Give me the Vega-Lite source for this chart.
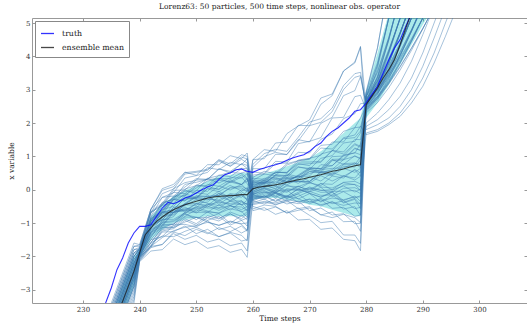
{
"$schema": "https://vega.github.io/schema/vega-lite/v6.json",
"width": 495, "height": 285,
"autosize": "none",
"padding": {"left": 32, "top": 18, "right": 0, "bottom": 24},
"background": "white",
"title": {"text": "Lorenz63: 50 particles, 500 time steps, nonlinear obs. operator", "font": "DejaVu Serif", "fontSize": 7.5, "fontWeight": "normal", "color": "#222", "offset": 7},
"config": {
  "view": {"stroke": "#999", "strokeWidth": 1},
  "axis": {"labelFont": "DejaVu Serif", "labelFontSize": 7, "labelColor": "#333", "titleFont": "DejaVu Serif", "titleFontSize": 7.5, "titleFontWeight": "normal", "titleColor": "#222", "grid": false, "domain": false, "tickColor": "#999", "tickSize": -3, "labelPadding": 5},
  "legend": {"labelFont": "DejaVu Serif", "labelFontSize": 7.8, "labelColor": "#222"}
},
"layer": [
{
  "data": {"values": [
    {"t":233,"lo":-5.6,"hi":-4.7},{"t":235,"lo":-4.7,"hi":-3.8},{"t":237,"lo":-3.8,"hi":-2.9},{"t":239,"lo":-2.9,"hi":-2.0},
    {"t":240,"lo":-2.05,"hi":-1.75},{"t":242,"lo":-1.5,"hi":-0.8},{"t":244,"lo":-1.2,"hi":-0.45},{"t":246,"lo":-1.0,"hi":-0.2},
    {"t":248,"lo":-0.9,"hi":-0.02},{"t":250,"lo":-0.85,"hi":0.1},{"t":252,"lo":-0.8,"hi":0.25},{"t":254,"lo":-0.8,"hi":0.4},
    {"t":256,"lo":-0.8,"hi":0.45},{"t":258,"lo":-0.8,"hi":0.5},{"t":259,"lo":-0.8,"hi":0.5},
    {"t":260,"lo":-0.3,"hi":0.4},{"t":262,"lo":-0.25,"hi":0.48},{"t":264,"lo":-0.25,"hi":0.58},{"t":266,"lo":-0.3,"hi":0.7},
    {"t":268,"lo":-0.35,"hi":0.82},{"t":270,"lo":-0.45,"hi":0.95},{"t":272,"lo":-0.5,"hi":1.15},{"t":274,"lo":-0.6,"hi":1.4},
    {"t":276,"lo":-0.7,"hi":1.7},{"t":278,"lo":-0.8,"hi":2.0},{"t":279,"lo":-0.8,"hi":2.15},
    {"t":280,"lo":2.15,"hi":2.95},{"t":282,"lo":2.6,"hi":4.1},{"t":284,"lo":3.15,"hi":5.3},{"t":286,"lo":3.75,"hi":6.5},
    {"t":288,"lo":4.35,"hi":7.6},{"t":290,"lo":4.95,"hi":8.6},{"t":292,"lo":5.5,"hi":9.6}
  ]},
  "mark": {"type": "area", "color": "#00bfbf", "opacity": 0.33, "clip": true},
  "encoding": {
    "x": {"field": "t", "type": "quantitative", "scale": {"domain": [221, 308.4], "nice": false, "zero": false},
          "axis": {"values": [230,240,250,260,270,280,290,300], "title": "Time steps", "titlePadding": 2}},
    "y": {"field": "lo", "type": "quantitative", "scale": {"domain": [-3.4, 5.15], "nice": false, "zero": false},
          "axis": {"values": [-3,-2,-1,0,1,2,3,4,5], "title": "x variable", "titlePadding": 4}},
    "y2": {"field": "hi"}
  }
},
{
  "data": {"values": "p,233,235,237,239,240,242,244,246,248,250,252,254,256,258,259,260,262,264,266,268,270,272,274,276,278,279,280,282,284,286,288,290,292,294,296\n1,-5.0,-4.1,-3.2,-2.3,-1.86,-0.93,-0.75,-0.29,-0.33,-0.02,-0.05,0.28,0.24,0.44,0.31,-0.14,-0.02,-0.2,0.03,-0.01,-0.07,0.07,-0.21,-0.06,-0.25,-0.18,2.6,3.1,3.83,4.69,5.63,9,9,9,9\n2,-5.5,-4.6,-3.7,-2.8,-1.94,-1.43,-0.97,-0.93,-0.71,-0.9,-0.67,-0.86,-0.72,-0.92,-0.85,0.28,0.27,0.52,0.52,0.89,0.94,1.03,1.43,1.43,1.86,1.88,2.5,2.87,3.41,4.06,4.77,5.52,9,9,9\n3,-4.6,-3.7,-2.8,-1.9,-1.78,-0.66,-0.41,0.03,0.21,0.28,0.66,0.6,0.82,0.75,0.93,-0.34,-0.19,-0.19,-0.34,-0.2,-0.05,-0.17,-0.16,0.04,0.06,-0.02,2.8,3.75,5.15,6.8,9,9,9,9,9\n4,-5.3,-4.4,-3.5,-2.6,-2.01,-1.59,-1.13,-1.03,-0.67,-0.68,-0.68,-0.45,-0.61,-0.37,-0.44,0.09,0.28,0.2,0.47,0.39,0.65,0.63,0.99,1.01,1.35,1.27,2.4,2.73,3.24,3.81,4.45,5.15,5.87,9,9\n5,-4.9,-4.0,-3.1,-2.2,-1.91,-1.05,-0.73,-0.68,-0.41,-0.18,-0.2,-0.17,0.05,0.05,-0.04,0.9,0.93,1.4,1.43,1.93,1.92,2.56,2.82,3.56,3.8,4.27,1.8,1.95,2.15,2.5,3.0,3.7,4.55,5.45,9\n6,-5.8,-4.9,-4.0,-3.1,-2.12,-1.7,-1.65,-1.32,-1.49,-1.37,-1.57,-1.48,-1.68,-1.6,-1.84,-0.08,0.07,-0.03,0.22,0.26,0.24,0.53,0.45,0.7,0.68,0.89,2.7,3.28,4.15,5.15,6.3,9,9,9,9\n7,-4.7,-3.8,-2.9,-2.0,-1.8,-1.0,-0.47,-0.4,-0.12,-0.24,0.02,-0.06,0.13,-0.04,0.06,-0.5,-0.62,-0.52,-0.7,-0.55,-0.77,-0.99,-0.95,-1.36,-1.36,-1.61,2.55,2.98,3.61,4.33,5.15,6.0,9,9,9\n8,-5.2,-4.3,-3.4,-2.5,-1.96,-1.21,-1.06,-0.68,-0.61,-0.65,-0.43,-0.56,-0.47,-0.6,-0.5,0.17,0.34,0.37,0.25,0.42,0.61,0.53,0.56,0.78,0.8,0.66,2.9,4.24,6.2,9,9,9,9,9,9\n9,-4.4,-3.5,-2.6,-1.7,-1.7,-0.69,-0.12,0.02,0.47,0.52,0.58,0.9,0.77,1.05,1.0,-0.21,-0.05,-0.25,-0.01,-0.28,-0.12,-0.37,-0.16,-0.4,-0.29,-0.57,2.45,2.75,3.17,3.68,4.24,4.83,5.46,9,9\n10,-5.6,-4.7,-3.8,-2.9,-2.01,-1.36,-1.13,-1.14,-0.97,-0.83,-0.97,-1.07,-0.94,-1.04,-1.22,0.44,0.47,0.78,0.8,1.12,1.1,1.51,1.67,2.13,2.28,2.58,2.6,3.38,4.5,5.84,9,9,9,9,9\n11,-4.8,-3.9,-3.0,-2.1,-1.84,-0.85,-0.62,-0.19,-0.19,0.11,0.12,0.44,0.39,0.63,0.51,0.01,0.15,0.02,0.25,0.25,0.19,0.42,0.26,0.42,0.29,0.4,2.7,3.1,3.69,4.39,5.15,5.98,9,9,9\n12,-5.4,-4.5,-3.6,-2.7,-2.04,-1.67,-1.2,-1.13,-0.87,-1.02,-0.78,-0.88,-0.67,-0.8,-0.66,-0.42,-0.35,-0.4,-0.3,-0.36,-0.28,-0.34,-0.25,-0.3,-0.22,-0.22,1.7,1.8,2.0,2.3,2.75,3.35,4.1,5.0,5.9\n13,-5.1,-4.2,-3.3,-2.4,-1.91,-1.07,-0.91,-0.53,-0.45,-0.47,-0.16,-0.44,-0.21,-0.46,-0.31,0.76,1.08,1.21,1.15,1.57,2.03,2.13,2.45,3.12,3.48,3.52,2.5,3.13,4.07,5.15,6.34,9,9,9,9\n14,-4.3,-3.4,-2.5,-1.6,-1.65,-0.58,-0.02,0.09,0.51,0.55,0.61,0.89,0.7,0.91,0.8,-0.15,0.02,-0.09,0.14,0.01,0.21,0.12,0.41,0.35,0.61,0.5,2.65,3.0,3.52,4.14,4.8,5.53,9,9,9\n15,-5.0,-4.1,-3.2,-2.3,-1.93,-1.11,-0.78,-0.73,-0.45,-0.2,-0.21,-0.17,0.07,0.1,0.02,0.17,0.17,0.45,0.42,0.69,0.61,0.94,1.02,1.4,1.45,1.7,2.8,3.51,4.56,5.78,9,9,9,9,9\n16,-6.1,-5.2,-4.3,-3.4,-2.16,-1.84,-1.8,-1.48,-1.65,-1.54,-1.76,-1.68,-1.88,-1.79,-2.03,-0.29,-0.19,-0.36,-0.2,-0.27,-0.42,-0.29,-0.56,-0.53,-0.8,-0.76,2.35,2.69,3.2,3.79,4.44,5.15,5.91,9,9\n17,-4.7,-3.8,-2.9,-2.0,-1.77,-0.93,-0.38,-0.3,-0.01,-0.12,0.16,0.1,0.3,0.15,0.26,0.34,0.31,0.53,0.5,0.83,0.83,0.85,1.17,1.07,1.38,1.3,2.6,3.05,3.86,4.72,5.6,9,9,9,9\n18,-5.3,-4.4,-3.5,-2.6,-1.99,-1.28,-1.1,-0.68,-0.57,-0.55,-0.23,-0.36,-0.14,-0.23,-0.04,-0.04,0.11,0.11,-0.05,0.09,0.22,0.08,0.05,0.21,0.15,-0.02,2.75,3.72,5.15,6.8,9,9,9,9,9\n19,-4.9,-4.0,-3.1,-2.2,-1.84,-1.14,-0.67,-0.6,-0.25,-0.28,-0.31,-0.11,-0.34,-0.17,-0.31,-0.63,-0.54,-0.74,-0.63,-0.91,-0.89,-1.19,-1.15,-1.49,-1.53,-1.83,2.5,2.94,3.58,4.32,5.15,6.05,9,9,9\n20,-5.7,-4.8,-3.9,-3.0,-2.09,-1.6,-1.39,-1.41,-1.25,-1.13,-1.29,-1.41,-1.28,-1.37,-1.54,0.23,0.23,0.52,0.51,0.78,0.72,1.07,1.16,1.56,1.64,1.9,1.65,1.75,1.95,2.2,2.6,3.1,3.8,4.6,5.45\n21,-4.5,-3.6,-2.7,-1.8,-1.78,-0.69,-0.45,-0.02,-0.01,0.29,0.3,0.62,0.55,0.77,0.64,-0.11,0.05,-0.05,0.21,0.25,0.24,0.54,0.47,0.75,0.75,0.98,2.6,3.2,4.11,5.15,6.3,9,9,9,9\n22,-5.2,-4.3,-3.4,-2.5,-1.89,-1.29,-0.81,-0.76,-0.52,-0.7,-0.49,-0.62,-0.47,-0.67,-0.59,0.53,0.49,0.85,0.83,1.38,1.45,1.56,2.15,2.17,2.79,2.83,2.4,2.79,3.36,4.03,4.76,5.56,9,9,9\n23,-4.8,-3.9,-3.0,-2.1,-1.85,-0.87,-0.66,-0.23,-0.05,-0.04,0.34,0.2,0.36,0.35,0.48,-0.25,-0.09,-0.08,-0.23,-0.08,0.08,-0.02,0,0.22,0.25,0.17,2.85,3.55,4.57,5.77,9,9,9,9,9\n24,-5.4,-4.5,-3.6,-2.7,-2.0,-1.58,-1.16,-1.09,-0.82,-0.83,-0.84,-0.72,-1.01,-0.77,-0.9,0.06,0.22,0.11,0.33,0.19,0.38,0.26,0.51,0.4,0.59,0.4,2.55,3.06,3.81,4.68,5.64,9,9,9,9\n25,-4.6,-3.7,-2.8,-1.9,-1.74,-0.59,-0.23,-0.19,0.08,0.33,0.31,0.33,0.52,0.49,0.35,-0.34,-0.43,-0.27,-0.43,-0.34,-0.63,-0.55,-0.76,-0.72,-1.02,-1.01,2.7,3.0,3.44,3.96,4.53,5.15,5.81,9,9\n26,-5.1,-4.2,-3.3,-2.4,-1.95,-1.18,-1.01,-0.61,-0.66,-0.42,-0.47,-0.22,-0.32,-0.12,-0.28,0.9,1.2,1.15,1.68,1.91,2.09,2.75,2.87,3.56,3.83,4.3,2.45,2.9,3.55,4.31,5.15,6.07,9,9,9\n27,-4.9,-4.0,-3.1,-2.2,-1.86,-1.15,-0.6,-0.5,-0.18,-0.27,0.04,0.02,0.26,0.16,0.32,-0.17,-0.25,-0.1,-0.21,0.02,-0.11,-0.22,-0.06,-0.33,-0.19,-0.35,2.9,3.81,5.15,6.7,9,9,9,9,9\n28,-5.6,-4.7,-3.8,-2.9,-2.05,-1.5,-1.41,-1.06,-1.04,-1.12,-0.93,-1.2,-1.1,-1.3,-1.21,0.11,0.29,0.34,0.24,0.44,0.66,0.63,0.72,1.01,1.11,1.05,2.6,2.96,3.49,4.11,4.79,5.53,9,9,9\n29,-4.7,-3.8,-2.9,-2.0,-1.79,-0.96,-0.41,-0.28,0.16,0.22,0.31,0.63,0.5,0.78,0.73,0,0.19,0.11,0.37,0.29,0.54,0.51,0.87,0.89,1.23,1.18,1.9,2.1,2.4,2.8,3.35,4.1,5.0,5.9,9\n30,-5.3,-4.4,-3.5,-2.6,-1.99,-1.29,-1.0,-0.96,-0.72,-0.5,-0.55,-0.55,-0.34,-0.34,-0.44,-0.45,-0.38,-0.44,-0.36,-0.42,-0.35,-0.45,-0.38,-0.47,-0.4,-0.41,2.65,3.24,4.14,5.15,6.28,9,9,9,9\n31,-5.0,-4.1,-3.2,-2.3,-1.9,-1.07,-0.91,-0.54,-0.62,-0.42,-0.52,-0.32,-0.47,-0.33,-0.54,0.28,0.47,0.42,0.74,0.86,0.93,1.33,1.36,1.75,1.86,2.15,2.5,3.02,3.78,4.67,5.65,9,9,9,9\n32,-4.4,-3.5,-2.6,-1.7,-1.66,-0.59,0.03,0.16,0.53,0.43,0.75,0.75,1.02,0.93,1.1,-0.12,-0.08,-0.06,0,-0.02,0.05,-0.02,-0.05,-0.05,-0.02,-0.12,2.75,3.15,3.72,4.4,5.15,5.97,9,9,9\n33,-5.9,-5.0,-4.1,-3.2,-2.09,-1.7,-1.44,-1.23,-1.13,-1.08,-0.98,-1.07,-0.96,-1.02,-1.0,0.02,0.2,0.24,0.14,0.34,0.55,0.51,0.6,0.9,1.0,0.95,2.3,2.61,3.06,3.59,4.18,4.82,5.49,9,9\n34,-5.1,-4.2,-3.3,-2.4,-1.85,-1.17,-0.68,-0.6,-0.24,-0.25,-0.26,-0.05,-0.25,-0.06,-0.18,-0.3,-0.18,-0.34,-0.17,-0.38,-0.29,-0.49,-0.35,-0.58,-0.51,-0.77,2.8,3.36,4.2,5.15,6.21,9,9,9,9\n35,-5.2,-4.3,-3.4,-2.5,-1.93,-1.15,-0.89,-0.89,-0.69,-0.53,-0.64,-0.71,-0.57,-0.65,-0.83,0.63,0.63,1.06,1.06,1.5,1.43,1.99,2.17,2.82,2.97,3.39,2.55,3.34,4.49,5.85,9,9,9,9,9\n36,-4.7,-3.8,-2.9,-2.0,-1.77,-0.68,-0.47,-0.08,-0.12,0.14,0.09,0.34,0.21,0.38,0.18,-0.08,0.04,-0.1,0.11,0.09,0,0.19,-0.01,0.11,-0.07,0.01,2.6,2.91,3.38,3.91,4.5,5.15,5.84,9,9\n37,-5.5,-4.6,-3.7,-2.8,-2.02,-1.69,-1.27,-1.26,-1.09,-1.32,-1.19,-1.41,-1.3,-1.54,-1.5,0.25,0.2,0.41,0.36,0.67,0.64,0.62,0.9,0.76,1.02,0.91,2.0,2.3,2.7,3.2,3.85,4.65,5.5,9,9\n38,-4.8,-3.9,-3.0,-2.1,-1.83,-0.93,-0.62,-0.3,-0.16,0.05,0.26,0.33,0.33,0.5,0.55,-0.58,-0.46,-0.5,-0.7,-0.62,-0.55,-0.75,-0.84,-0.74,-0.84,-0.99,2.7,3.18,3.88,4.7,5.62,9,9,9,9\n39,-5.3,-4.4,-3.5,-2.6,-1.95,-1.41,-0.92,-0.81,-0.42,-0.41,-0.37,-0.11,-0.25,0,-0.05,0.15,0.22,0.32,0.34,0.38,0.48,0.6,0.64,0.65,0.8,0.75,2.4,2.85,3.52,4.29,5.15,6.09,9,9,9\n40,-5.0,-4.1,-3.2,-2.3,-1.89,-1.0,-0.69,-0.67,-0.43,-0.22,-0.29,-0.31,-0.12,-0.16,-0.31,-0.19,-0.23,0,-0.08,0.11,-0.05,0.18,0.16,0.41,0.35,0.54,2.95,4.26,6.14,9,9,9,9,9,9\n41,-6.0,-5.1,-4.2,-3.3,-2.14,-1.74,-1.64,-1.27,-1.38,-1.19,-1.32,-1.14,-1.26,-1.09,-1.25,0.37,0.55,0.48,0.78,0.87,0.91,1.25,1.22,1.53,1.56,1.76,2.5,2.9,3.45,4.02,4.74,5.5,9,9,9\n42,-4.6,-3.7,-2.8,-1.9,-1.79,-0.82,-0.44,-0.24,0.02,0.12,0.34,0.42,0.53,0.64,0.63,-0.14,-0.23,-0.08,-0.2,0.03,-0.11,-0.23,-0.08,-0.38,-0.26,-0.44,2.65,3.41,4.52,5.83,9,9,9,9,9\n43,-5.2,-4.3,-3.4,-2.5,-1.94,-1.26,-0.95,-0.68,-0.61,-0.58,-0.45,-0.38,-0.42,-0.45,-0.41,0.67,0.99,1.12,1.05,1.46,1.92,2.02,2.34,3.0,3.37,3.42,2.55,3.1,3.78,4.7,5.6,9,9,9,9\n44,-4.5,-3.6,-2.7,-1.8,-1.73,-0.79,-0.23,-0.09,0.35,0.42,0.52,0.85,0.71,0.98,0.92,-0.39,-0.28,-0.46,-0.32,-0.57,-0.51,-0.76,-0.67,-0.96,-0.95,-1.25,2.7,3.25,4.18,5.12,6.3,9,9,9,9\n45,-5.4,-4.5,-3.6,-2.7,-2.01,-1.33,-1.05,-1.03,-0.8,-0.6,-0.67,-0.7,-0.5,-0.52,-0.63,0.11,0.07,0.3,0.22,0.42,0.25,0.47,0.42,0.64,0.52,0.64,2.45,2.78,3.27,3.84,4.47,5.15,5.88,9,9\n46,-4.9,-4.0,-3.1,-2.2,-1.84,-0.88,-0.69,-0.3,-0.34,-0.09,-0.14,0.11,-0.01,0.16,-0.01,-0.05,0.12,0.04,0.32,0.39,0.41,0.75,0.72,1.04,1.1,1.37,2.6,3.02,3.64,4.35,5.15,6.0,9,9,9\n47,-5.6,-4.7,-3.8,-2.9,-2.05,-1.71,-1.24,-1.17,-0.92,-1.07,-0.84,-0.94,-0.73,-0.87,-0.72,0.22,0.19,0.43,0.41,0.76,0.78,0.82,1.18,1.13,1.51,1.5,2.8,3.26,3.94,4.72,5.6,9,9,9,9\n48,-5.1,-4.2,-3.3,-2.4,-1.92,-1.07,-0.86,-0.43,-0.29,-0.25,0.1,0,0.23,0.15,0.35,-0.28,-0.13,-0.12,-0.27,-0.12,0.03,-0.08,-0.07,0.14,0.16,0.08,2.35,2.75,3.32,4.01,4.75,5.57,9,9,9\n49,-5.3,-4.4,-3.5,-2.6,-1.96,-1.5,-1.08,-1.04,-0.74,-0.83,-0.92,-0.8,-1.06,-0.92,-1.09,0.06,0.25,0.17,0.43,0.34,0.6,0.56,0.91,0.92,1.25,1.18,2.6,3.64,5.15,6.9,9,9,9,9,9\n50,-4.9,-4.0,-3.1,-2.2,-1.86,-0.95,-0.67,-0.68,-0.47,-0.3,-0.41,-0.48,-0.35,-0.44,-0.63,-0.22,-0.29,-0.11,-0.25,-0.13,-0.38,-0.26,-0.42,-0.33,-0.57,-0.53,2.5,2.79,3.21,3.7,4.25,4.84,5.47,9,9",
    "format": {"type": "csv", "parse": {"233":"number","235":"number","237":"number","239":"number","240":"number","242":"number","244":"number","246":"number","248":"number","250":"number","252":"number","254":"number","256":"number","258":"number","259":"number","260":"number","262":"number","264":"number","266":"number","268":"number","270":"number","272":"number","274":"number","276":"number","278":"number","279":"number","280":"number","282":"number","284":"number","286":"number","288":"number","290":"number","292":"number","294":"number","296":"number"}}},
  "transform": [
    {"fold": ["233","235","237","239","240","242","244","246","248","250","252","254","256","258","259","260","262","264","266","268","270","272","274","276","278","279","280","282","284","286","288","290","292","294","296"], "as": ["k", "v"]},
    {"lookup": "k", "from": {"data": {"values": [
      {"k":"233","t":233},{"k":"235","t":235},{"k":"237","t":237},{"k":"239","t":239},{"k":"240","t":240},{"k":"242","t":242},{"k":"244","t":244},{"k":"246","t":246},{"k":"248","t":248},{"k":"250","t":250},{"k":"252","t":252},{"k":"254","t":254},{"k":"256","t":256},{"k":"258","t":258},{"k":"259","t":259},{"k":"260","t":260},{"k":"262","t":262},{"k":"264","t":264},{"k":"266","t":266},{"k":"268","t":268},{"k":"270","t":270},{"k":"272","t":272},{"k":"274","t":274},{"k":"276","t":276},{"k":"278","t":278},{"k":"279","t":279},{"k":"280","t":280},{"k":"282","t":282},{"k":"284","t":284},{"k":"286","t":286},{"k":"288","t":288},{"k":"290","t":290},{"k":"292","t":292},{"k":"294","t":294},{"k":"296","t":296}
    ]}, "key": "k", "fields": ["t"]}}
  ],
  "mark": {"type": "line", "color": "#3a78b0", "opacity": 0.5, "strokeWidth": 0.9, "clip": true},
  "encoding": {
    "x": {"field": "t", "type": "quantitative", "scale": {"domain": [221, 308.4], "nice": false, "zero": false}, "axis": null},
    "y": {"field": "v", "type": "quantitative", "scale": {"domain": [-3.4, 5.15], "nice": false, "zero": false}, "axis": null},
    "detail": {"field": "p", "type": "nominal"}
  }
},
{
  "data": {"values": [
    {"t":233,"truth":-3.85,"ensemble mean":-5.15},{"t":234,"truth":-3.4,"ensemble mean":-4.7},{"t":235,"truth":-2.95,"ensemble mean":-4.25},{"t":236,"truth":-2.4,"ensemble mean":-3.8},
    {"t":237,"truth":-2.05,"ensemble mean":-3.35},{"t":238,"truth":-1.6,"ensemble mean":-2.9},{"t":239,"truth":-1.3,"ensemble mean":-2.45},{"t":240,"truth":-1.1,"ensemble mean":-1.9},
    {"t":241,"truth":-1.1,"ensemble mean":-1.35},{"t":242,"truth":-1.05,"ensemble mean":-1.15},{"t":243,"truth":-0.8,"ensemble mean":-0.95},{"t":244,"truth":-0.55,"ensemble mean":-0.82},
    {"t":245,"truth":-0.38,"ensemble mean":-0.7},{"t":246,"truth":-0.42,"ensemble mean":-0.6},{"t":247,"truth":-0.35,"ensemble mean":-0.52},{"t":248,"truth":-0.25,"ensemble mean":-0.45},
    {"t":249,"truth":-0.2,"ensemble mean":-0.4},{"t":250,"truth":-0.1,"ensemble mean":-0.35},{"t":251,"truth":0.0,"ensemble mean":-0.3},{"t":252,"truth":0.08,"ensemble mean":-0.25},
    {"t":253,"truth":0.15,"ensemble mean":-0.22},{"t":254,"truth":0.3,"ensemble mean":-0.2},{"t":255,"truth":0.45,"ensemble mean":-0.19},{"t":256,"truth":0.5,"ensemble mean":-0.18},
    {"t":257,"truth":0.6,"ensemble mean":-0.17},{"t":258,"truth":0.62,"ensemble mean":-0.15},{"t":259,"truth":0.55,"ensemble mean":-0.15},{"t":260,"truth":0.52,"ensemble mean":0.03},
    {"t":261,"truth":0.6,"ensemble mean":0.07},{"t":262,"truth":0.65,"ensemble mean":0.1},{"t":263,"truth":0.7,"ensemble mean":0.12},{"t":264,"truth":0.75,"ensemble mean":0.15},
    {"t":265,"truth":0.8,"ensemble mean":0.18},{"t":266,"truth":0.88,"ensemble mean":0.22},{"t":267,"truth":0.95,"ensemble mean":0.26},{"t":268,"truth":1.0,"ensemble mean":0.3},
    {"t":269,"truth":1.05,"ensemble mean":0.33},{"t":270,"truth":1.15,"ensemble mean":0.37},{"t":271,"truth":1.3,"ensemble mean":0.41},{"t":272,"truth":1.4,"ensemble mean":0.45},
    {"t":273,"truth":1.6,"ensemble mean":0.5},{"t":274,"truth":1.75,"ensemble mean":0.55},{"t":275,"truth":1.85,"ensemble mean":0.58},{"t":276,"truth":2.0,"ensemble mean":0.62},
    {"t":277,"truth":2.15,"ensemble mean":0.67},{"t":278,"truth":2.35,"ensemble mean":0.72},{"t":279,"truth":2.4,"ensemble mean":0.75},{"t":280,"truth":2.6,"ensemble mean":2.55},
    {"t":281,"truth":2.85,"ensemble mean":2.8},{"t":282,"truth":3.1,"ensemble mean":3.05},{"t":283,"truth":3.5,"ensemble mean":3.35},{"t":284,"truth":3.9,"ensemble mean":3.6},
    {"t":285,"truth":4.25,"ensemble mean":3.9},{"t":286,"truth":4.5,"ensemble mean":4.35},{"t":287,"truth":4.9,"ensemble mean":4.85},{"t":288,"truth":5.3,"ensemble mean":5.3},
    {"t":289,"truth":5.7,"ensemble mean":5.8}
  ]},
  "transform": [{"fold": ["truth", "ensemble mean"], "as": ["series", "val"]}],
  "mark": {"type": "line", "strokeWidth": 1.1, "opacity": 0.8, "clip": true},
  "encoding": {
    "x": {"field": "t", "type": "quantitative", "scale": {"domain": [221, 308.4], "nice": false, "zero": false},
          "axis": {"orient": "top", "labels": false, "title": null, "values": [230,240,250,260,270,280,290,300]}},
    "y": {"field": "val", "type": "quantitative", "scale": {"domain": [-3.4, 5.15], "nice": false, "zero": false},
          "axis": {"orient": "right", "labels": false, "title": null, "values": [-3,-2,-1,0,1,2,3,4,5]}},
    "color": {"field": "series", "type": "nominal", "sort": ["truth", "ensemble mean"],
              "scale": {"domain": ["truth", "ensemble mean"], "range": ["#0000ff", "#1a1a1a"]},
              "legend": {"orient": "top-left", "title": null, "offset": 3, "padding": 5, "strokeColor": "#888", "fillColor": "white",
                         "symbolType": "stroke", "symbolSize": 170, "symbolStrokeWidth": 1.3, "rowPadding": 2, "labelOffset": 7}},
    "detail": {"field": "series", "type": "nominal"}
  }
}
],
"resolve": {"axis": {"x": "independent", "y": "independent"}}
}
